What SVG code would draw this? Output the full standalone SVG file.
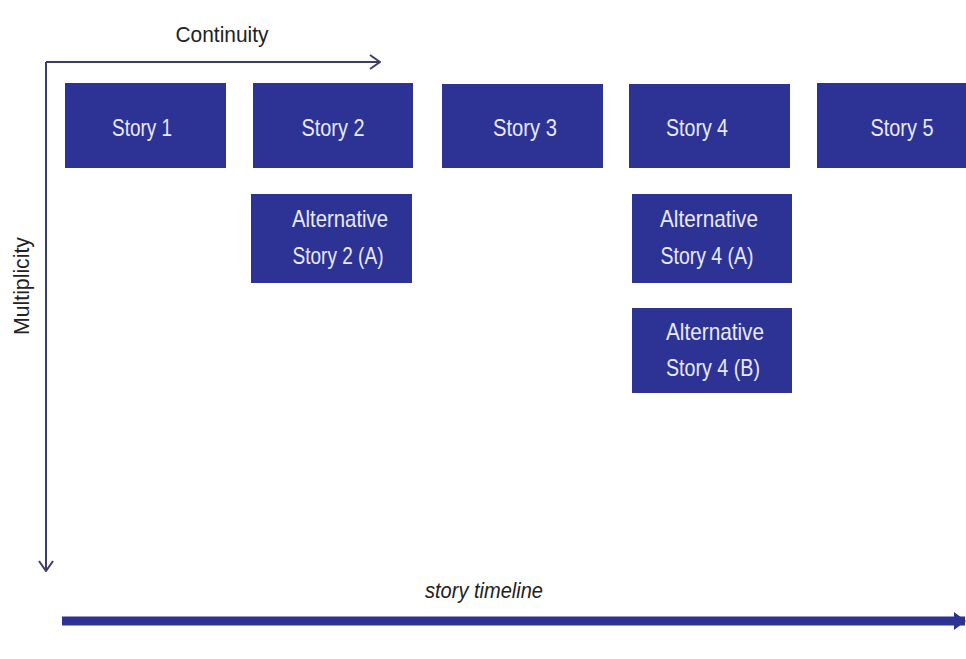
<svg xmlns="http://www.w3.org/2000/svg" width="966" height="659" viewBox="0 0 966 659">
  <style>
    .box { fill: #2d3394; }
    .lbl { font-family: "Liberation Sans", Arial, sans-serif; font-size: 24px; fill: #e9e9f7; }
    .axis { stroke: #3b3d6e; stroke-width: 2; fill: none; }
    .cap { font-family: "Liberation Sans", Arial, sans-serif; font-size: 22px; fill: #222222; }
  </style>
  <defs>
    <marker id="chev" viewBox="0 0 12 16" refX="11" refY="8" markerWidth="12" markerHeight="16" markerUnits="userSpaceOnUse" orient="auto">
      <path d="M1,1 L11,8 L1,15" fill="none" stroke="#3b3d6e" stroke-width="2"/>
    </marker>
    <marker id="solid" viewBox="0 0 12 18" refX="11" refY="9" markerWidth="12" markerHeight="18" markerUnits="userSpaceOnUse" orient="auto">
      <path d="M0,0 L12,9 L0,18 Z" fill="#2d3394"/>
    </marker>
  </defs>
  <rect width="966" height="659" fill="#ffffff"/>

  <!-- axes -->
  <g id="connectors">
    <path class="axis" d="M46,62 L380,62" marker-end="url(#chev)"/>
    <path class="axis" d="M46,62 L46,571" marker-end="url(#chev)"/>
    <path d="M62,621 L965,621" stroke="#2d3394" stroke-width="9" fill="none" marker-end="url(#solid)"/>
  </g>

  <text class="cap" x="222" y="42" text-anchor="middle" textLength="93" lengthAdjust="spacingAndGlyphs">Continuity</text>
  <text class="cap" transform="translate(29,286) rotate(-90)" text-anchor="middle" textLength="98" lengthAdjust="spacingAndGlyphs">Multiplicity</text>
  <text class="cap" x="484" y="598" text-anchor="middle" font-style="italic" textLength="118" lengthAdjust="spacingAndGlyphs">story timeline</text>

  <!-- main stories -->
  <g id="story1">
    <rect class="box" x="65" y="83" width="161" height="85"/>
    <text class="lbl" x="142" y="136" text-anchor="middle" textLength="60" lengthAdjust="spacingAndGlyphs">Story 1</text>
  </g>
  <g id="story2">
    <rect class="box" x="253" y="83" width="160" height="85"/>
    <text class="lbl" x="333" y="136" text-anchor="middle" textLength="63" lengthAdjust="spacingAndGlyphs">Story 2</text>
  </g>
  <g id="story3">
    <rect class="box" x="442" y="84" width="161" height="84"/>
    <text class="lbl" x="525" y="136" text-anchor="middle" textLength="64" lengthAdjust="spacingAndGlyphs">Story 3</text>
  </g>
  <g id="story4">
    <rect class="box" x="629" y="84" width="161" height="84"/>
    <text class="lbl" x="697" y="136" text-anchor="middle" textLength="62" lengthAdjust="spacingAndGlyphs">Story 4</text>
  </g>
  <g id="story5">
    <rect class="box" x="817" y="83" width="149" height="85"/>
    <text class="lbl" x="902" y="136" text-anchor="middle" textLength="63" lengthAdjust="spacingAndGlyphs">Story 5</text>
  </g>

  <!-- alternatives -->
  <g id="alt2a">
    <rect class="box" x="251" y="194" width="161" height="89"/>
    <text class="lbl" x="340" y="227" text-anchor="middle" textLength="96" lengthAdjust="spacingAndGlyphs">Alternative</text>
    <text class="lbl" x="338" y="264" text-anchor="middle" textLength="91" lengthAdjust="spacingAndGlyphs">Story 2 (A)</text>
  </g>
  <g id="alt4a">
    <rect class="box" x="632" y="194" width="160" height="89"/>
    <text class="lbl" x="709" y="227" text-anchor="middle" textLength="98" lengthAdjust="spacingAndGlyphs">Alternative</text>
    <text class="lbl" x="707" y="264" text-anchor="middle" textLength="93" lengthAdjust="spacingAndGlyphs">Story 4 (A)</text>
  </g>
  <g id="alt4b">
    <rect class="box" x="632" y="308" width="160" height="85"/>
    <text class="lbl" x="715" y="340" text-anchor="middle" textLength="98" lengthAdjust="spacingAndGlyphs">Alternative</text>
    <text class="lbl" x="713" y="376" text-anchor="middle" textLength="94" lengthAdjust="spacingAndGlyphs">Story 4 (B)</text>
  </g>
</svg>
